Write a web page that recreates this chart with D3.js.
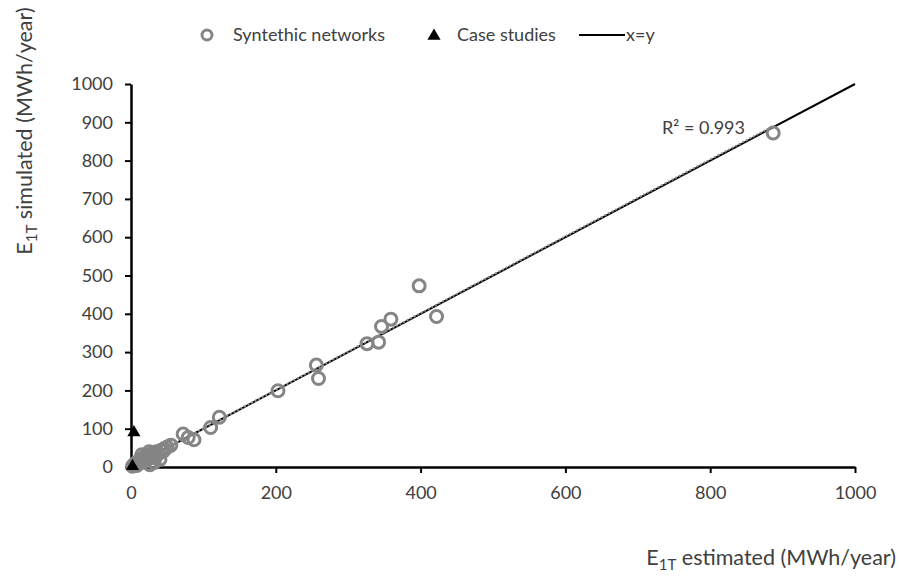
<!DOCTYPE html>
<html>
<head>
<meta charset="utf-8">
<script src="https://cdn.jsdelivr.net/npm/d3@7"></script>
<style>
  body { margin: 0; background: #fff; }
  text { font-family: Lato, "Open Sans", sans-serif; fill: #404040; }
</style>
</head>
<body>
<svg width="899" height="578"></svg>
<script>
// Data
var synthX = [887, 398, 422, 359, 346, 326, 342, 256, 259, 203, 122, 110, 87, 79, 72, 55, 45, 38, 35,
  2, 4, 6, 8, 10, 12, 14, 16, 18, 20, 22, 24, 26, 28, 30, 33, 36, 40, 42, 46, 50, 15, 25, 32];
var synthY = [872, 473, 393, 386, 367, 322, 326, 266, 231, 199, 130, 103, 71, 77, 86, 57, 42, 35, 40,
  2, 6, 10, 4, 14, 18, 12, 22, 26, 16, 30, 22, 6, 34, 28, 24, 38, 20, 44, 48, 52, 32, 40, 12];
var caseX = [4, 2];
var caseY = [90, 2];
var xTicks = [0, 200, 400, 600, 800, 1000];
var yTicks = [0, 100, 200, 300, 400, 500, 600, 700, 800, 900, 1000];
var r2Label = 'R² = 0.993';

// Layout
var svg = d3.select('svg');
var x = d3.scaleLinear().domain([0, 1000]).range([131, 855]);
var y = d3.scaleLinear().domain([0, 1000]).range([467, 84]);

// x=y line
svg.append('line')
  .attr('x1', x(0)).attr('y1', y(0))
  .attr('x2', x(1000)).attr('y2', y(1000))
  .style('stroke', '#000')
  .style('stroke-width', 2);

// linear trend from the synthetic points
var mx = d3.mean(synthX), my = d3.mean(synthY);
var sxy = d3.sum(synthX, function (d, i) { return (d - mx) * (synthY[i] - my); });
var sxx = d3.sum(synthX, function (d) { return (d - mx) * (d - mx); });
var slope = sxy / sxx;
var icpt = my - slope * mx;
var xmax = d3.max(synthX);
svg.append('line')
  .attr('x1', x(0)).attr('y1', y(icpt))
  .attr('x2', x(xmax)).attr('y2', y(icpt + slope * xmax))
  .style('stroke', '#8c8c8c')
  .style('stroke-width', 2)
  .style('stroke-dasharray', '2,2');

// Axes
var fmt = d3.format('d');
var xAxis = svg.append('g')
  .attr('transform', 'translate(0,' + y(0) + ')')
  .call(d3.axisBottom(x).tickValues(xTicks).tickFormat(fmt).tickSize(6).tickPadding(13).tickSizeOuter(0));
var yAxis = svg.append('g')
  .attr('transform', 'translate(' + x(0) + ',0)')
  .call(d3.axisLeft(y).tickValues(yTicks).tickFormat(fmt).tickSize(6).tickPadding(12).tickSizeOuter(0));
[xAxis, yAxis].forEach(function (a) {
  a.select('.domain').style('stroke', '#000').style('stroke-width', 2.5);
  a.selectAll('.tick line').style('stroke', '#000').style('stroke-width', 2);
  a.selectAll('.tick text')
    .style('font-family', 'Lato, "Open Sans", sans-serif')
    .style('font-size', '18px')
    .style('fill', '#404040');
});

// Points
svg.append('g').selectAll('circle')
  .data(synthX)
  .enter().append('circle')
  .attr('cx', function (d) { return x(d); })
  .attr('cy', function (d, i) { return y(synthY[i]); })
  .attr('r', 6)
  .style('fill', 'none')
  .style('stroke', '#858585')
  .style('stroke-width', 3);

var tri = d3.symbol().type(d3.symbolTriangle).size(75);
svg.append('g').selectAll('path')
  .data(caseX)
  .enter().append('path')
  .attr('d', tri)
  .attr('transform', function (d, i) { return 'translate(' + x(d) + ',' + y(caseY[i]) + ')'; })
  .style('fill', '#000');

// R2 label
svg.append('text')
  .attr('x', 662).attr('y', 134)
  .style('font-size', '18px')
  .text(r2Label);

// Axis titles
var yt = svg.append('text')
  .attr('transform', 'translate(32,131) rotate(-90)')
  .attr('text-anchor', 'middle')
  .style('font-size', '21.5px');
yt.append('tspan').text('E');
yt.append('tspan').attr('dy', 5).style('font-size', '15px').text('1T');
yt.append('tspan').attr('dy', -5).text(' simulated (MWh/year)');

var xt = svg.append('text')
  .attr('x', 896).attr('y', 565)
  .attr('text-anchor', 'end')
  .style('font-size', '21.5px');
xt.append('tspan').text('E');
xt.append('tspan').attr('dy', 5).style('font-size', '15px').text('1T');
xt.append('tspan').attr('dy', -5).text(' estimated (MWh/year)');

// Legend
var leg = svg.append('g');
leg.append('circle').attr('cx', 207).attr('cy', 35).attr('r', 5)
  .style('fill', 'none').style('stroke', '#858585').style('stroke-width', 3);
leg.append('text').attr('x', 233).attr('y', 41).style('font-size', '18px').text('Syntethic networks');
leg.append('path').attr('d', tri).attr('transform', 'translate(434,36)').style('fill', '#000');
leg.append('text').attr('x', 457).attr('y', 41).style('font-size', '18px').text('Case studies');
leg.append('line').attr('x1', 579).attr('x2', 625).attr('y1', 35).attr('y2', 35)
  .style('stroke', '#000').style('stroke-width', 2);
leg.append('text').attr('x', 626).attr('y', 41).style('font-size', '18px').text('x=y');
</script>
</body>
</html>
